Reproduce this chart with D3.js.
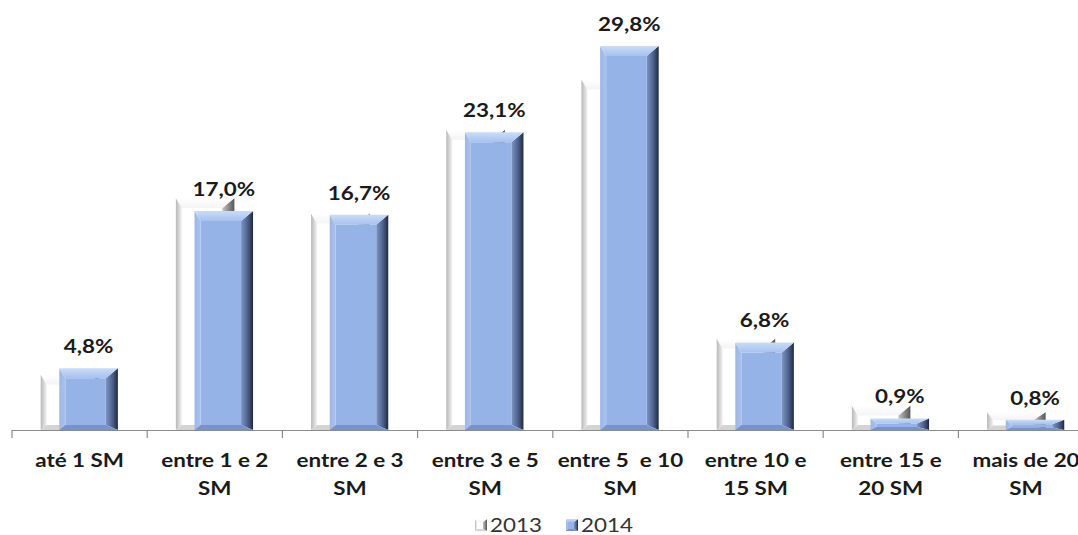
<!DOCTYPE html>
<html>
<head>
<meta charset="utf-8">
<script src="https://cdn.jsdelivr.net/npm/d3@7"></script>
<style>
  html, body { margin: 0; padding: 0; background: #fff; }
  svg { display: block; }
  text { font-family: Lato, "Open Sans", sans-serif; }
</style>
</head>
<body>
<svg id="chart" width="1078" height="535"></svg>
<script>
// Faixas de renda (salários mínimos)
const categories = [
  "até 1 SM", "entre 1 e 2 SM", "entre 2 e 3 SM", "entre 3 e 5 SM",
  "entre 5  e 10 SM", "entre 10 e 15 SM", "entre 15 e 20 SM", "mais de 20 SM"
];
const categoryLines = [
  ["até 1 SM"], ["entre 1 e 2", "SM"], ["entre 2 e 3", "SM"], ["entre 3 e 5", "SM"],
  ["entre 5  e 10", "SM"], ["entre 10 e", "15 SM"], ["entre 15 e", "20 SM"], ["mais de 20", "SM"]
];
const seriesNames = ["2013", "2014"];
const values2013 = [4.3, 18.0, 16.8, 23.3, 27.2, 7.1, 1.9, 1.4];
const values2014 = [4.8, 17.0, 16.7, 23.1, 29.8, 6.8, 0.9, 0.8];

const svg = d3.select("#chart");
const baseY = 430;
const textStretch = 1.18; // wide label lettering

const x = d3.scaleBand().domain(categories).range([12, 12 + 8 * 135.2]).padding(0);
const y = d3.scaleLinear().domain([0, 30]).range([baseY, baseY - 30 * 12.886]);

// Position of each series' column inside its category band
const seriesOffset = { "2013": 0.212, "2014": 0.35 };
const barFrac = 0.433;

const defs = svg.append("defs");
function linGrad(id, x2, y2, stops) {
  const g = defs.append("linearGradient").attr("id", id)
    .attr("x1", 0).attr("y1", 0).attr("x2", x2).attr("y2", y2);
  stops.forEach(([o, c]) => g.append("stop").attr("offset", o).attr("stop-color", c));
}
// bevel palettes
const styles = {
  "2014": {
    face: "#95B3E7",
    top: "url(#t14)", left: "url(#l14)", right: "url(#r14)", bottom: "#7B93C2"
  },
  "2013": {
    face: "#FFFFFF",
    top: "url(#t13)", left: "url(#l13)", right: "url(#r13)", bottom: "#D4D4D4"
  }
};
linGrad("t14", 0, 1, [[0, "#CADCF8"], [1, "#A6C1EF"]]);
linGrad("l14", 1, 0, [[0, "#9DB6E4"], [1, "#A9C2EF"]]);
linGrad("r14", 1, 0, [[0, "#7D96C6"], [0.6, "#4A5C84"], [1, "#1E283E"]]);
linGrad("t13", 0, 1, [[0, "#FFFFFF"], [1, "#F4F4F4"]]);
linGrad("l13", 1, 0, [[0, "#B8B8B8"], [1, "#F2F2F2"]]);
linGrad("r13", 1, 0, [[0, "#C4C4C4"], [1, "#555555"]]);

function bevelBar(g, x0, x1, y0, y1, st, sizes) {
  const h = y1 - y0;
  const bt = Math.min(sizes.top, h * 0.45);
  const bb = Math.min(sizes.bottom, h * 0.25);
  const bl = sizes.left, br = sizes.right;
  const pts = a => a.map(p => p.join(",")).join(" ");
  g.append("polygon").attr("fill", st.face)
    .attr("points", pts([[x0 + bl, y0 + bt], [x1 - br, y0 + bt], [x1 - br, y1 - bb], [x0 + bl, y1 - bb]]));
  g.append("polygon").attr("fill", st.left)
    .attr("points", pts([[x0, y0], [x0 + bl, y0 + bt], [x0 + bl, y1 - bb], [x0, y1]]));
  g.append("polygon").attr("fill", st.right)
    .attr("points", pts([[x1, y0], [x1, y1], [x1 - br, y1 - bb], [x1 - br, y0 + bt]]));
  g.append("polygon").attr("fill", st.bottom)
    .attr("points", pts([[x0, y1], [x0 + bl, y1 - bb], [x1 - br, y1 - bb], [x1, y1]]));
  g.append("polygon").attr("fill", st.top)
    .attr("points", pts([[x0, y0], [x1, y0], [x1 - br, y0 + bt], [x0 + bl, y0 + bt]]));
}

const bw = x.bandwidth();
const barSizes = { top: 10, bottom: 5, left: 6, right: 12 };
const seriesData = { "2013": values2013, "2014": values2014 };

seriesNames.forEach(s => {
  const g = svg.append("g").attr("class", "series-" + s);
  categories.forEach((c, i) => {
    const x0 = x(c) + bw * seriesOffset[s];
    const x1 = x0 + bw * barFrac;
    bevelBar(g, x0, x1, y(seriesData[s][i]), baseY, styles[s], barSizes);
  });
});

// Axis line with category ticks
const axis = svg.append("g").attr("transform", `translate(0,${baseY})`)
  .call(d3.axisBottom(x).tickSize(0).tickFormat(""));
axis.select(".domain").attr("stroke", "#8C8C8C").attr("stroke-width", 1.2)
  .attr("d", `M12,0.5H1078`);
axis.selectAll(".tick").remove();
categories.forEach(c => {
  axis.append("line").attr("x1", x(c)).attr("x2", x(c)).attr("y1", 0).attr("y2", 8)
    .attr("stroke", "#8C8C8C").attr("stroke-width", 1.2);
});

// Horizontally widened text anchored at (cx, cy)
function wideText(parent, cx, cy, anchor) {
  return parent.append("g").attr("transform", `translate(${cx},${cy}) scale(${textStretch},1)`)
    .append("text").attr("text-anchor", anchor).attr("x", 0).attr("y", 0);
}

// Category labels
categories.forEach((c, i) => {
  categoryLines[i].forEach((line, j) => {
    wideText(svg, x(c) + bw / 2, 467 + j * 28, "middle")
      .attr("font-size", 19).attr("font-weight", 700).attr("fill", "#1A1A1A")
      .attr("xml:space", "preserve").text(line);
  });
});

// Value labels above 2014 columns
const fmt = v => v.toFixed(1).replace(".", ",") + "%";
categories.forEach((c, i) => {
  wideText(svg, x(c) + bw * (seriesOffset["2014"] + barFrac / 2), y(values2014[i]) - 15, "middle")
    .attr("font-size", 19).attr("font-weight", 700).attr("fill", "#1A1A1A")
    .text(fmt(values2014[i]));
});

// Legend
const legend = svg.append("g");
const legendItems = [{ s: "2013", x: 475 }, { s: "2014", x: 566 }];
legendItems.forEach(d => {
  bevelBar(legend, d.x, d.x + 12, 519, 531, styles[d.s], { top: 3, bottom: 2, left: 2, right: 4 });
  wideText(legend, d.x + 15, 532, "start")
    .attr("font-size", 19).attr("fill", "#333").text(d.s);
});
</script>
</body>
</html>
